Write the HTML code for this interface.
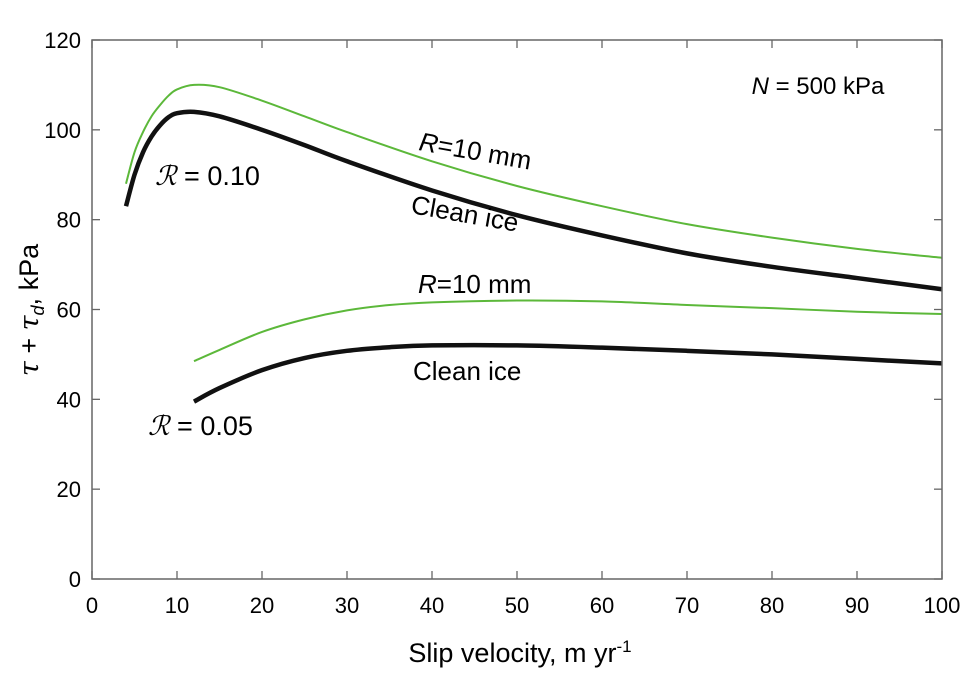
<!DOCTYPE html>
<html><head><meta charset="utf-8"><style>
body{margin:0;background:#fff}
svg{font-family:"Liberation Sans",sans-serif}
</style></head><body>
<svg width="975" height="668">
<g id="grid"></g>
<g id="marks"></g>
<rect x="92" y="40" width="850" height="539" fill="none" stroke="#666" stroke-width="1.5"/>
<text x="818" y="94" font-size="24" text-anchor="middle"><tspan font-style="italic">N</tspan> = 500 kPa</text>
<text x="418" y="150" font-size="26" transform="rotate(10 418 150)"><tspan font-style="italic">R</tspan>=10 mm</text>
<text x="410" y="213" font-size="26" transform="rotate(10 410 213)">Clean ice</text>
<text x="418" y="293" font-size="26"><tspan font-style="italic">R</tspan>=10 mm</text>
<text x="413" y="380" font-size="26">Clean ice</text>
<text x="155" y="185" font-size="27"><tspan font-family="'DejaVu Serif',serif" font-style="italic">ℛ</tspan> = 0.10</text>
<text x="148" y="435" font-size="27"><tspan font-family="'DejaVu Serif',serif" font-style="italic">ℛ</tspan> = 0.05</text>
<text x="520" y="662" font-size="27" text-anchor="middle">Slip velocity, m yr<tspan font-size="17" dy="-10">-1</tspan></text>
<text transform="translate(38 310) rotate(-90)" font-size="27" text-anchor="middle"><tspan font-family="'DejaVu Serif',serif" font-style="italic">τ</tspan> + <tspan font-family="'DejaVu Serif',serif" font-style="italic">τ</tspan><tspan font-size="18" dy="6" font-style="italic">d</tspan><tspan dy="-6">, kPa</tspan></text>
</svg>
<script>
const xTicks=[0,10,20,30,40,50,60,70,80,90,100];
const yTicks=[0,20,40,60,80,100,120];
const xUpper=[4,5,6,7,8,9,10,12,15,20,25,30,40,50,60,70,80,90,100];
const blackUpper=[83,90,95,98.5,101,102.8,103.7,104,103,100,96.6,93,86.5,81,76.5,72.5,69.5,67,64.5];
const greenUpper=[88,95,99.5,103,105.5,107.6,109,110,109.5,106.5,103,99.5,93,87.5,83,79,76,73.5,71.5];
const xLower=[12,15,20,25,30,35,40,50,60,70,80,90,100];
const greenLower=[48.5,51,55,57.8,59.8,61,61.6,62,61.8,61,60.3,59.5,59];
const blackLower=[39.5,42.5,46.5,49.2,50.8,51.6,52,52,51.5,50.8,50,49,48];
const X=v=>92+v*8.5, Y=v=>579-v*539/120;
const NS="http://www.w3.org/2000/svg";
const g=document.getElementById('grid'), m=document.getElementById('marks');
function el(t,a,p){const e=document.createElementNS(NS,t);for(const k in a)e.setAttribute(k,a[k]);p.appendChild(e);return e;}
xTicks.forEach(v=>{
 const t=el('line',{x1:X(v),x2:X(v),y1:579,y2:571,stroke:'#666','stroke-width':1.3},g);
 
 
 const t2=el('line',{x1:X(v),x2:X(v),y1:40,y2:48,stroke:'#666','stroke-width':1.3},g);
 
 
 const l=el('text',{x:X(v),y:613,'font-size':22,'text-anchor':'middle'},g);l.textContent=v;
 
 
});
yTicks.forEach(v=>{
 const t=el('line',{x1:92,x2:100,y1:Y(v),y2:Y(v),stroke:'#666','stroke-width':1.3},g);
 
 
 const t2=el('line',{x1:934,x2:942,y1:Y(v),y2:Y(v),stroke:'#666','stroke-width':1.3},g);
 
 
 const l=el('text',{x:81,y:Y(v)+8,'font-size':22,'text-anchor':'end'},g);l.textContent=v;
 
 
});
function path(xs,ys){
 const p=xs.map((x,i)=>[X(x),Y(ys[i])]);
 let d='M'+p[0][0]+','+p[0][1];
 for(let i=0;i<p.length-1;i++){
  const p0=p[Math.max(0,i-1)],p1=p[i],p2=p[i+1],p3=p[Math.min(p.length-1,i+2)];
  d+=' C'+(p1[0]+(p2[0]-p0[0])/6)+','+(p1[1]+(p2[1]-p0[1])/6)+' '+(p2[0]-(p3[0]-p1[0])/6)+','+(p2[1]-(p3[1]-p1[1])/6)+' '+p2[0]+','+p2[1];
 }
 return d;
}
const s=[[xUpper,greenUpper,'#5cb83a',2,'green-upper-line'],[xUpper,blackUpper,'#111',4.5,'black-upper-line'],[xLower,greenLower,'#5cb83a',2,'green-lower-line'],[xLower,blackLower,'#111',4.5,'black-lower-line']];
s.forEach(a=>{
 const e=el('path',{d:path(a[0],a[1]),fill:'none',stroke:a[2],'stroke-width':a[3]},m);
 
 
});
</script>
</body></html>
